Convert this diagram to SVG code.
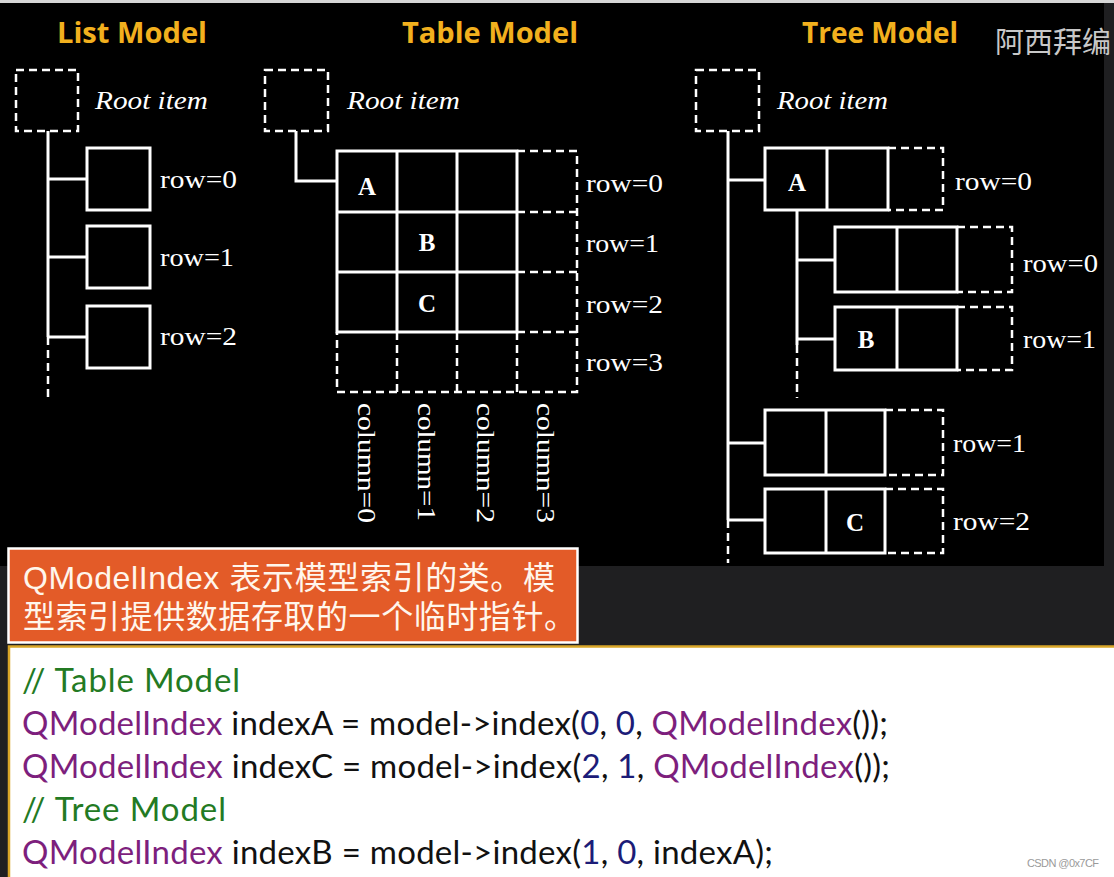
<svg xmlns="http://www.w3.org/2000/svg" width="1114" height="877" viewBox="0 0 1114 877">
<style>
.ln{stroke:#fff;stroke-width:3;fill:none}
.dash{stroke:#fff;stroke-width:2.5;fill:none;stroke-dasharray:8 5}
.title{font-family:"Open Sans","Liberation Sans",sans-serif;font-weight:bold;font-size:28px;fill:#F2B01E}
.root{font-family:"Liberation Serif",serif;font-style:italic;font-size:26px;fill:#fff}
.lbl{font-family:"Liberation Serif",serif;font-size:26px;fill:#fff}
.let{font-family:"Liberation Serif",serif;font-weight:bold;font-size:25px;fill:#fff;text-anchor:middle}
.note{font-family:"Liberation Sans","Noto Sans CJK SC",sans-serif;font-size:32px;fill:#fff6ec}
.code{font-family:Lato,"Open Sans",sans-serif;font-size:33px;fill:#111}
.cm{fill:#237a23}
.ty{fill:#7d1f7d}
.nm{fill:#1c1c78}
</style>
<!-- backgrounds -->
<rect x="0" y="0" width="1114" height="877" fill="#1f1f21"/>
<rect x="0" y="0" width="1114" height="3" fill="#d6d6d6"/>
<rect x="0" y="3" width="1104" height="563" fill="#000"/>
<text x="995" y="53" font-family="'Noto Sans CJK SC',sans-serif" font-size="29" fill="#c8c8c8">阿西拜编</text>

<!-- titles -->
<text class="title" x="57" y="43" textLength="150" lengthAdjust="spacingAndGlyphs">List Model</text>
<text class="title" x="402" y="43" textLength="176" lengthAdjust="spacingAndGlyphs">Table Model</text>
<text class="title" x="802" y="43" textLength="156" lengthAdjust="spacingAndGlyphs">Tree Model</text>

<!-- List model -->
<g id="list-root">
<rect class="dash" x="16" y="70" width="62" height="61"/>
<text class="root" x="95" y="109" textLength="113" lengthAdjust="spacingAndGlyphs">Root item</text>
</g>
<g id="list-row0"><rect class="ln" x="87" y="148" width="63" height="62"/><text class="lbl" x="160" y="188" textLength="77" lengthAdjust="spacingAndGlyphs">row=0</text></g>
<g id="list-row1"><rect class="ln" x="87" y="226" width="63" height="62"/><text class="lbl" x="160" y="266" textLength="74" lengthAdjust="spacingAndGlyphs">row=1</text></g>
<g id="list-row2"><rect class="ln" x="87" y="306" width="63" height="62"/><text class="lbl" x="160" y="345" textLength="77" lengthAdjust="spacingAndGlyphs">row=2</text></g>

<!-- Table model -->
<g id="table-root">
<rect class="dash" x="265" y="70" width="63" height="61"/>
<text class="root" x="347" y="109" textLength="113" lengthAdjust="spacingAndGlyphs">Root item</text>
</g>
<g id="table-grid">
<rect class="ln" x="337" y="151" width="180" height="181"/>
<path class="ln" d="M397 151V332M457 151V332M337 212H517M337 272H517"/>
<path class="dash" d="M517 151H577V392H337V332M517 212H577M517 272H577M517 332H577M397 332V392M457 332V392M517 332V392"/>
<text class="let" x="367" y="195">A</text>
<text class="let" x="427" y="251">B</text>
<text class="let" x="427" y="312">C</text>
<text class="lbl" x="586" y="192" textLength="77" lengthAdjust="spacingAndGlyphs">row=0</text>
<text class="lbl" x="586" y="252" textLength="73" lengthAdjust="spacingAndGlyphs">row=1</text>
<text class="lbl" x="586" y="313" textLength="77" lengthAdjust="spacingAndGlyphs">row=2</text>
<text class="lbl" x="586" y="371" textLength="77" lengthAdjust="spacingAndGlyphs">row=3</text>
<text class="lbl" transform="translate(358 403) rotate(90)" textLength="120" lengthAdjust="spacingAndGlyphs">column=0</text>
<text class="lbl" transform="translate(418 403) rotate(90)" textLength="118" lengthAdjust="spacingAndGlyphs">column=1</text>
<text class="lbl" transform="translate(477 403) rotate(90)" textLength="120" lengthAdjust="spacingAndGlyphs">column=2</text>
<text class="lbl" transform="translate(537 403) rotate(90)" textLength="120" lengthAdjust="spacingAndGlyphs">column=3</text>
</g>

<!-- Tree model -->
<g id="tree-root">
<rect class="dash" x="696" y="70" width="63" height="61"/>
<text class="root" x="777" y="109" textLength="111" lengthAdjust="spacingAndGlyphs">Root item</text>
</g>
<g id="tree-row0">
<rect class="ln" x="765" y="148" width="123" height="62"/>
<path class="ln" d="M827 148V210"/>
<path class="dash" d="M888 148H943V210H888"/>
<text class="let" x="797" y="191">A</text>
<text class="lbl" x="955" y="190" textLength="77" lengthAdjust="spacingAndGlyphs">row=0</text>
</g>
<g id="tree-child0">
<rect class="ln" x="835" y="227" width="122" height="65"/>
<path class="ln" d="M897 227V292"/>
<path class="dash" d="M957 227H1012V292H957"/>
<text class="lbl" x="1023" y="272" textLength="75" lengthAdjust="spacingAndGlyphs">row=0</text>
</g>
<g id="tree-child1">
<rect class="ln" x="835" y="307" width="122" height="63"/>
<path class="ln" d="M897 307V370"/>
<path class="dash" d="M957 307H1012V370H957"/>
<text class="let" x="866" y="348">B</text>
<text class="lbl" x="1023" y="348" textLength="73" lengthAdjust="spacingAndGlyphs">row=1</text>
</g>
<g id="tree-row1">
<rect class="ln" x="765" y="410" width="120" height="65"/>
<path class="ln" d="M826 410V475"/>
<path class="dash" d="M885 410H943V475H885"/>
<text class="lbl" x="953" y="452" textLength="73" lengthAdjust="spacingAndGlyphs">row=1</text>
</g>
<g id="tree-row2">
<rect class="ln" x="765" y="489" width="120" height="64"/>
<path class="ln" d="M826 489V553"/>
<path class="dash" d="M885 489H943V553H885"/>
<text class="let" x="855" y="531">C</text>
<text class="lbl" x="953" y="530" textLength="77" lengthAdjust="spacingAndGlyphs">row=2</text>
</g>

<!-- connectors -->
<g id="connectors">
<path class="ln" d="M48 131V337M48 179H87M48 257H87M48 337H87"/>
<path class="dash" d="M48 337V400"/>
<path class="ln" d="M296 131V181H337"/>
<path class="ln" d="M728 131V520M728 180H765M728 443H765M728 520H765"/>
<path class="dash" d="M728 520V563"/>
<path class="ln" d="M797 210V345M797 260H835M797 339H835"/>
<path class="dash" d="M797 345V398"/>
</g>

<!-- note box -->
<g id="note">
<rect x="8.5" y="548.5" width="569" height="94" fill="#E35B28" stroke="#fff" stroke-width="2.5"/>
<text class="note" x="23" y="589" textLength="532">QModelIndex 表示模型索引的类。模</text>
<text class="note" x="23" y="628" textLength="553">型索引提供数据存取的一个临时指针。</text>
</g>

<!-- code box -->
<g id="code">
<rect x="9" y="646.5" width="1110" height="240" fill="#fff" stroke="#d9a628" stroke-width="2.5"/>
<text class="code" x="22" y="692" textLength="218"><tspan class="cm">// Table Model</tspan></text>
<text class="code" x="22" y="735" textLength="866"><tspan class="ty">QModelIndex</tspan> indexA = model-&gt;index(<tspan class="nm">0</tspan>, <tspan class="nm">0</tspan>, <tspan class="ty">QModelIndex</tspan>());</text>
<text class="code" x="22" y="778" textLength="868"><tspan class="ty">QModelIndex</tspan> indexC = model-&gt;index(<tspan class="nm">2</tspan>, <tspan class="nm">1</tspan>, <tspan class="ty">QModelIndex</tspan>());</text>
<text class="code" x="22" y="821" textLength="204"><tspan class="cm">// Tree Model</tspan></text>
<text class="code" x="22" y="864" textLength="751"><tspan class="ty">QModelIndex</tspan> indexB = model-&gt;index(<tspan class="nm">1</tspan>, <tspan class="nm">0</tspan>, indexA);</text>
<text x="1027" y="867" font-family="'Liberation Sans',sans-serif" font-size="11" fill="#9a9a9a" textLength="72">CSDN @0x7CF</text>
</g>
</svg>
